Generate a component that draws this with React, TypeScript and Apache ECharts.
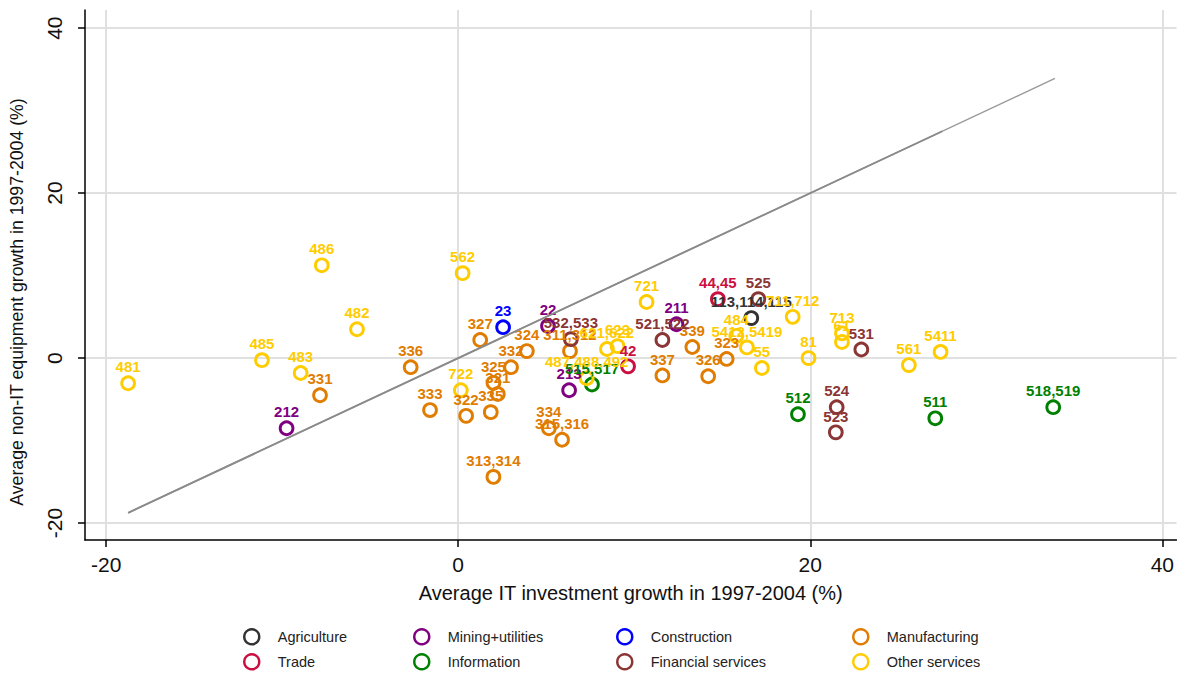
import React, { useEffect, useRef } from "react";
import * as echarts from "echarts";

// [IT growth %, non-IT growth %, industry code label]
const agriculture: [number, number, string][] = [[16.65, 4.85, "113,114,115"]];
const miningUtilities: [number, number, string][] = [
  [-9.75, -8.5, "212"], [5.1, 3.9, "22"], [12.4, 4.1, "211"], [6.3, -3.9, "213"],
];
const construction: [number, number, string][] = [[2.55, 3.75, "23"]];
const manufacturing: [number, number, string][] = [
  [-7.85, -4.5, "331"], [-2.7, -1.1, "336"], [-1.6, -6.3, "333"], [1.25, 2.2, "327"],
  [0.45, -7.0, "322"], [3.9, 0.85, "324"], [3.0, -1.1, "332"], [2.0, -3.0, "325"],
  [2.25, -4.35, "321"], [1.85, -6.55, "335"], [5.15, -8.5, "334"], [5.9, -9.9, "315,316"],
  [2.0, -14.4, "313,314"], [6.35, 0.85, "311,312"], [13.3, 1.35, "339"], [11.6, -2.1, "337"],
  [14.2, -2.2, "326"], [15.25, -0.1, "323"],
];
const trade: [number, number, string][] = [[14.75, 7.15, "44,45"], [9.65, -1.0, "42"]];
const information: [number, number, string][] = [
  [7.6, -3.2, "515,517"], [19.3, -6.8, "512"], [27.1, -7.3, "511"], [33.8, -5.95, "518,519"],
];
const financialServices: [number, number, string][] = [
  [17.05, 7.15, "525"], [22.9, 1.05, "531"], [21.5, -5.95, "524"], [21.45, -9.0, "523"],
  [11.6, 2.2, "521,522"], [6.4, 2.3, "532,533"],
];
const otherServices: [number, number, string][] = [
  [-18.75, -3.05, "481"], [-11.15, -0.25, "485"], [-8.95, -1.8, "483"], [-7.75, 11.25, "486"],
  [-5.75, 3.5, "482"], [0.25, 10.3, "562"], [0.15, -3.9, "722"], [10.7, 6.8, "721"],
  [7.3, -2.45, "487,488,492"], [8.45, 1.1, "621,622"], [9.05, 1.45, "623"], [15.8, 2.7, "484"],
  [16.4, 1.3, "5412,5419"], [17.25, -1.2, "55"], [19.0, 5.0, "711,712"], [21.8, 3.0, "713"],
  [21.8, 1.95, "61"], [19.9, 0.0, "81"], [25.6, -0.85, "561"], [27.4, 0.75, "5411"],
];

const fitLineLong: [number, number][] = [[-18.75, -18.75], [33.9, 33.9]];
const fitLineShort: [number, number][] = [[-18.75, -18.75], [27.5, 27.5]];

const xTicks = [-20, 0, 20, 40];
const yTicks = [-20, 0, 20, 40];

const groups = [
  { name: "Agriculture", data: agriculture, color: "#333333" },
  { name: "Mining+utilities", data: miningUtilities, color: "#800080" },
  { name: "Construction", data: construction, color: "#0000ff" },
  { name: "Manufacturing", data: manufacturing, color: "#e07c00" },
  { name: "Trade", data: trade, color: "#cc0f40" },
  { name: "Information", data: information, color: "#008000" },
  { name: "Financial services", data: financialServices, color: "#8b3535" },
  { name: "Other services", data: otherServices, color: "#ffcc00" },
];

const legendPos = [
  [252, 636], [422, 636], [625, 636], [861, 636],
  [252, 661], [422, 661], [625, 661], [861, 661],
];

const FONT = "Liberation Sans, Arial, sans-serif";

export default function App() {
  const ref = useRef<HTMLDivElement>(null);
  useEffect(() => {
    document.body.style.margin = "0";
    const chart = echarts.init(ref.current!, null, { renderer: "svg" });
    const scatter = groups.map((g) => ({
      type: "scatter",
      name: g.name,
      data: g.data.map((d) => ({ value: [d[0], d[1]], name: d[2] })),
      symbol: "circle",
      symbolSize: 12.8,
      itemStyle: { color: "rgba(0,0,0,0)", borderColor: g.color, borderWidth: 2.9, opacity: 1 },
      label: {
        show: true,
        position: "top",
        distance: 1,
        formatter: "{b}",
        color: g.color,
        opacity: 1,
        fontSize: 15,
        fontWeight: "bold",
        fontFamily: FONT,
      },
      emphasis: { disabled: true },
      z: 3,
    }));
    const lines = [
      { data: fitLineLong, width: 1.4, color: "#999999" },
      { data: fitLineShort, width: 1.9, color: "#8a8a8a" },
    ].map((l) => ({
      type: "line",
      data: l.data,
      showSymbol: false,
      symbol: "none",
      silent: true,
      lineStyle: { color: l.color, width: l.width, opacity: 1 },
      z: 4,
    }));
    const legends = groups.map((g, i) => ({
      show: true,
      left: legendPos[i][0] - 9,
      top: legendPos[i][1] - 8,
      padding: 0,
      itemWidth: 42,
      itemHeight: 15,
      selectedMode: false,
      textStyle: { fontSize: 14.5, color: "#222", fontFamily: FONT },
      data: [
        {
          name: g.name,
          icon: "circle",
          itemStyle: { color: "rgba(0,0,0,0)", borderColor: g.color, borderWidth: 2.5, opacity: 1 },
        },
      ],
    }));
    chart.setOption({
      animation: false,
      backgroundColor: "#ffffff",
      grid: { left: 82, right: 0, top: 10, bottom: 133, containLabel: false },
      legend: legends,
      xAxis: {
        type: "value",
        min: -21.2,
        max: 40.8,
        name: "Average IT investment growth in 1997-2004 (%)",
        nameLocation: "middle",
        nameGap: 43,
        nameTextStyle: { fontSize: 20, color: "#111", fontFamily: FONT },
        axisLine: { show: true, onZero: false, lineStyle: { color: "#000", width: 1.5 } },
        axisTick: { show: true, inside: false, length: 7, customValues: xTicks, lineStyle: { color: "#000", width: 1.5 } },
        axisLabel: { customValues: xTicks, fontSize: 21, color: "#111", margin: 14, fontFamily: FONT },
        splitLine: { show: true, lineStyle: { color: "#e0e0e0", width: 2 } },
      },
      yAxis: {
        type: "value",
        min: -22.05,
        max: 42.2,
        name: "Average non-IT equipment growth in 1997-2004 (%)",
        nameLocation: "middle",
        nameGap: 59,
        nameTextStyle: { fontSize: 17.7, color: "#111", fontFamily: FONT, padding: [0, 54, 0, 0] },
        axisLine: { show: true, onZero: false, lineStyle: { color: "#000", width: 1.5 } },
        axisTick: { show: true, inside: false, length: 7, customValues: yTicks, lineStyle: { color: "#000", width: 1.5 } },
        axisLabel: { customValues: yTicks, rotate: 90, fontSize: 21, color: "#111", margin: 20, fontFamily: FONT },
        splitLine: { show: true, lineStyle: { color: "#e0e0e0", width: 2 } },
      },
      series: [...scatter, ...lines],
    });
    return () => chart.dispose();
  }, []);
  return (
    <div
      ref={ref}
      style={{ position: "fixed", left: 0, top: 0, width: 1177, height: 673, background: "#fff" }}
    />
  );
}
